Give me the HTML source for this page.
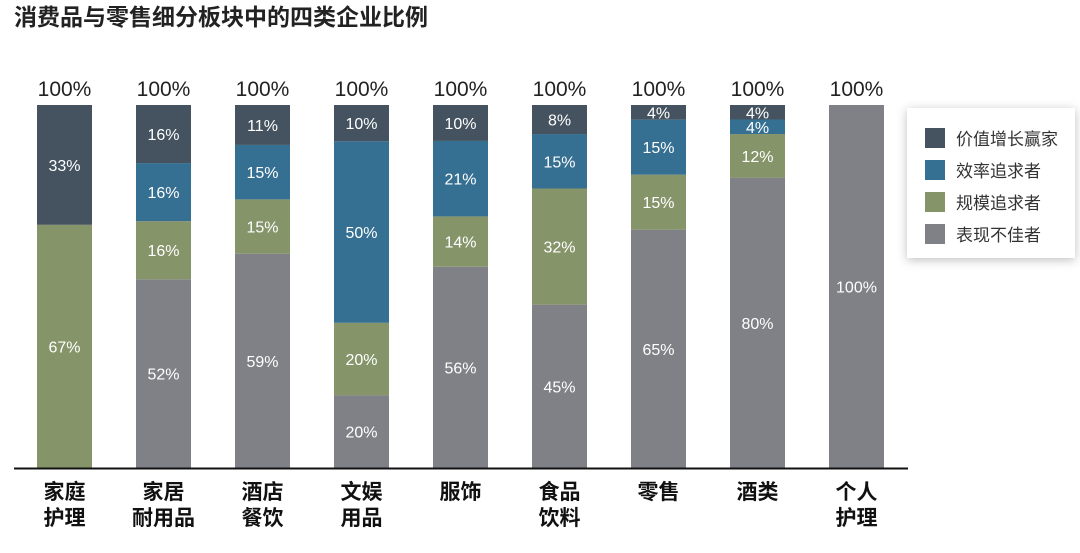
<!DOCTYPE html>
<html><head><meta charset="utf-8"><style>
body{margin:0;width:1080px;height:548px;background:#fff;overflow:hidden;font-family:"Liberation Sans","Noto Sans CJK SC",sans-serif}
</style></head><body>
<svg id="chart" width="1080" height="548" xmlns="http://www.w3.org/2000/svg">
<text x="14" y="25" font-size="23" font-weight="bold" fill="#222" font-family="Liberation Sans,Noto Sans CJK SC,sans-serif">消费品与零售细分板块中的四类企业比例</text>
<g id="bars"></g>
<line x1="14" y1="468.5" x2="908" y2="468.5" stroke="#111" stroke-width="2"/>
<g>
<rect x="907" y="108" width="168" height="150" fill="#fff" style="filter:drop-shadow(0 2px 5px rgba(0,0,0,0.25))"/>
<g><rect x="925" y="128" width="20" height="20" fill="#44535f"/><text x="956" y="145" font-size="17" fill="#333">价值增长赢家</text></g>
<g><rect x="925" y="160" width="20" height="20" fill="#356f91"/><text x="956" y="177" font-size="17" fill="#333">效率追求者</text></g>
<g><rect x="925" y="192" width="20" height="20" fill="#86946a"/><text x="956" y="209" font-size="17" fill="#333">规模追求者</text></g>
<g><rect x="925" y="224" width="20" height="20" fill="#808187"/><text x="956" y="241" font-size="17" fill="#333">表现不佳者</text></g>
</g>
</svg>
<script>
const categories=[["家庭","护理"],["家居","耐用品"],["酒店","餐饮"],["文娱","用品"],["服饰"],["食品","饮料"],["零售"],["酒类"],["个人","护理"]];
const underperformer=[0,52,59,20,56,45,65,80,100];
const scaleSeekers=[67,16,15,20,14,32,15,12,0];
const efficiencySeekers=[0,16,15,50,21,15,15,4,0];
const growthWinners=[33,16,11,10,10,8,4,4,0];
const totalLabels=["100%","100%","100%","100%","100%","100%","100%","100%","100%"];
const seriesNames=["underperformer","scale","efficiency","growth"];
const colors=["#808187","#86946a","#356f91","#44535f"];
const NS="http://www.w3.org/2000/svg";
const g=document.getElementById("bars");
const x0=37,step=99,bw=55,yTop=105,yBot=468;
function xPos(i){return x0+i*step;}
function yScale(f){return yBot-f*(yBot-yTop);}
const series=[underperformer,scaleSeekers,efficiencySeekers,growthWinners];
categories.forEach((c,i)=>{
  const tot=series.reduce((s,a)=>s+a[i],0)||1;
  let cum=0;
  series.forEach((arr,k)=>{
    const v=arr[i]; if(!v)return;
    const y1=yScale(cum/tot), y2=yScale((cum+v)/tot); cum+=v;
    const r=document.createElementNS(NS,"rect");
    
    
    r.setAttribute("x",xPos(i));r.setAttribute("y",y2);r.setAttribute("width",bw);r.setAttribute("height",y1-y2);r.setAttribute("fill",colors[k]);
    g.appendChild(r);
    const t=document.createElementNS(NS,"text");
    
    
    t.setAttribute("x",xPos(i)+bw/2);t.setAttribute("y",(y1+y2)/2+6);t.setAttribute("text-anchor","middle");t.setAttribute("font-size","16");t.setAttribute("fill","#fff");
    t.textContent=v+"%";g.appendChild(t);
  });
  const tl=document.createElementNS(NS,"text");
  
  
  tl.setAttribute("x",xPos(i)+bw/2);tl.setAttribute("y",96);tl.setAttribute("text-anchor","middle");tl.setAttribute("font-size","21");tl.setAttribute("fill","#222");
  tl.textContent=totalLabels[i];g.appendChild(tl);
  c.forEach((line,j)=>{
    const ct=document.createElementNS(NS,"text");
    
    
    ct.setAttribute("x",xPos(i)+bw/2);ct.setAttribute("y",499+j*26);ct.setAttribute("text-anchor","middle");ct.setAttribute("font-size","21");ct.setAttribute("font-weight","bold");ct.setAttribute("fill","#111");
    ct.textContent=line;g.appendChild(ct);
  });
});
</script>
</body></html>
